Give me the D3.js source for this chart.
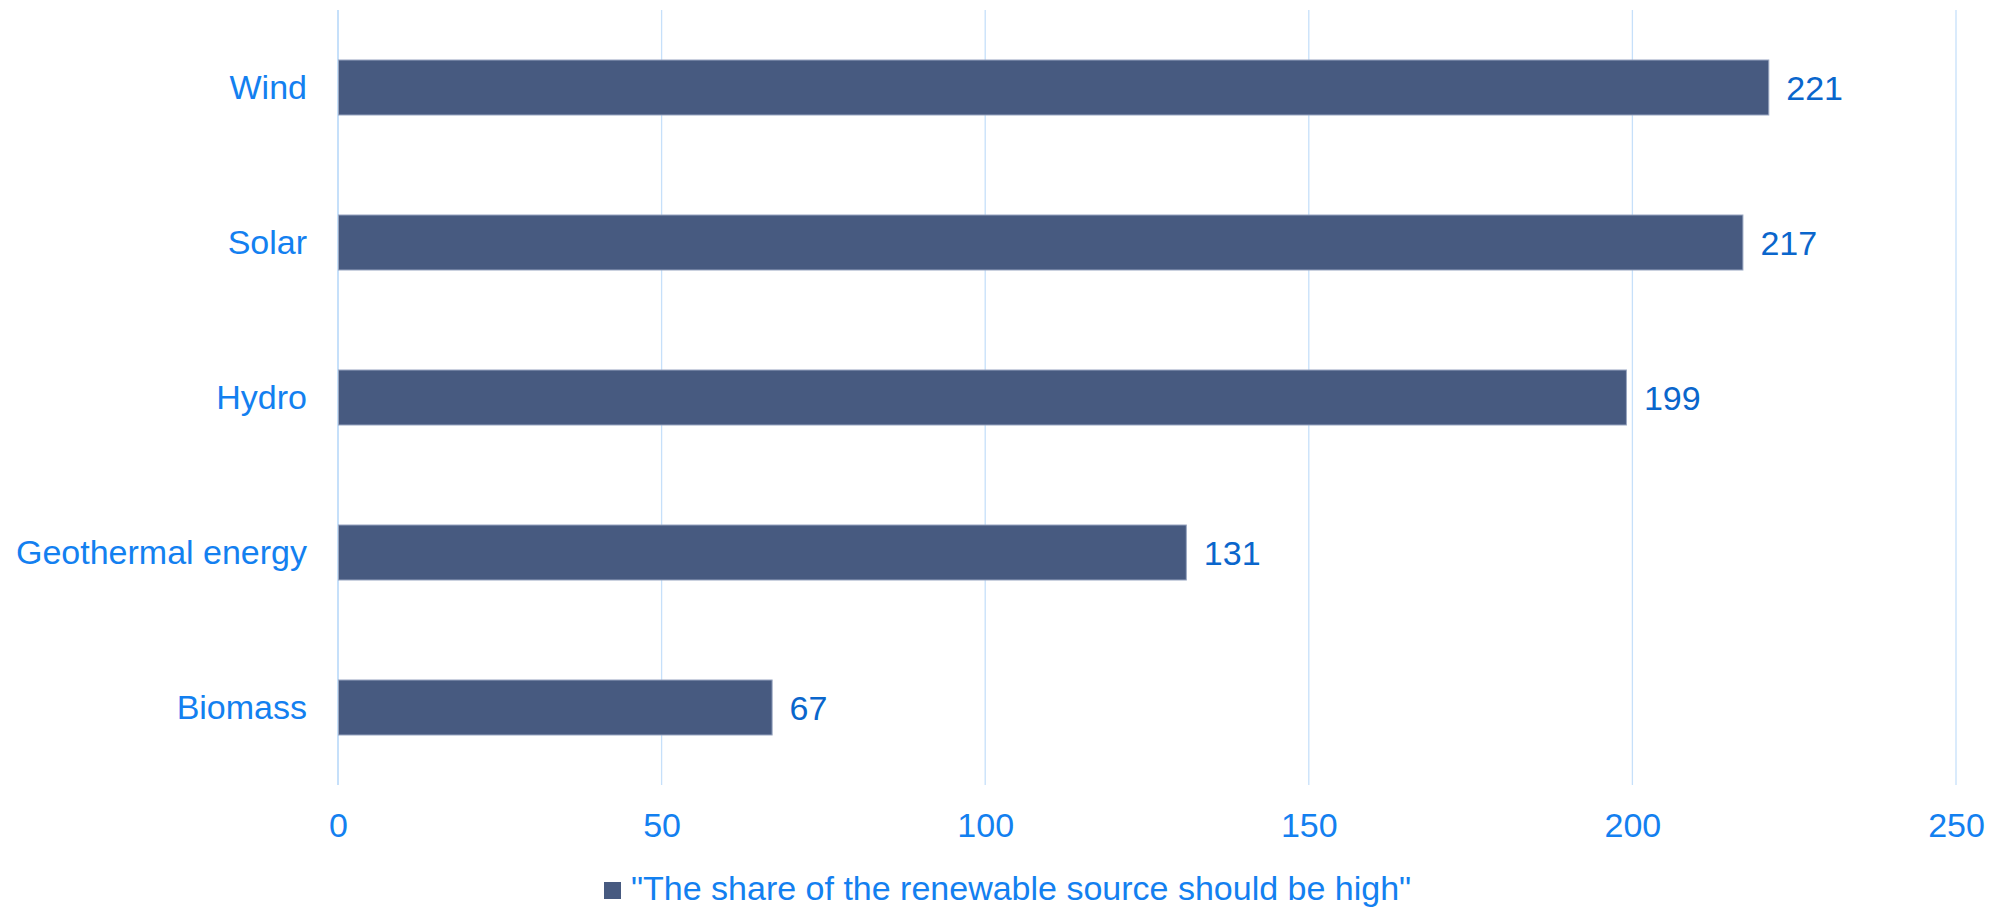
<!DOCTYPE html>
<html>
<head>
<meta charset="utf-8">
<script src="https://cdn.jsdelivr.net/npm/d3@7"></script>
<style>
	html, body { margin: 0; padding: 0; background: #ffffff; }
	svg { display: block; font-family: "Liberation Sans", Arial, sans-serif; }
</style>
</head>
<body>
<svg id="chart" width="2004" height="909"></svg>
<script>
// data
const categories = ['Wind', 'Solar', 'Hydro', 'Geothermal energy', 'Biomass'];
const values = [221, 217, 199, 131, 67];
const xTicks = [0, 50, 100, 150, 200, 250];
const seriesName = '"The share of the renewable source should be high"';

// colors
const barColor = '#475a80';
const gridColor = '#c6e0fa';
const labelColor = '#1380f0';
const valueColor = '#0a66cc';

const chart = {

	svg: d3.select('#chart'),
	x: null,
	y: null,

	// scales
	setScale: function() {
		this.x = d3.scaleLinear()
			.domain([0, 250])
			.range([338, 1956]);

		this.y = d3.scaleBand()
			.domain(categories)
			.range([10, 785])
			.paddingInner(0.645)
			.paddingOuter(0.3225);

		return this;
	},

	// vertical grid lines
	grid: function() {
		const x = this.x;

		this.svg.append('g')
			.attr('class', 'grid')
			.selectAll('line')
			.data(xTicks)
			.join('line')
			.attr('x1', d => x(d))
			.attr('x2', d => x(d))
			.attr('y1', 10)
			.attr('y2', 785)
			.style('stroke', gridColor)
			.style('stroke-width', d => d === 0 ? 2 : 1.3);

		return this;
	},

	// x axis labels (no axis line)
	xAxis: function() {
		const axis = d3.axisBottom(this.x)
			.tickValues(xTicks)
			.tickSize(0)
			.tickPadding(0);

		const g = this.svg.append('g')
			.attr('transform', 'translate(0,813)')
			.call(axis);

		g.select('.domain').remove();
		g.selectAll('text')
			.attr('dy', '0.71em')
			.style('font-size', '34px')
			.style('font-family', '"Liberation Sans", Arial, sans-serif')
			.style('fill', labelColor);

		return this;
	},

	// category labels
	yAxis: function() {
		const axis = d3.axisLeft(this.y)
			.tickSize(0)
			.tickPadding(31);

		const g = this.svg.append('g')
			.attr('transform', 'translate(338,0)')
			.call(axis);

		g.select('.domain').remove();
		g.selectAll('text')
			.attr('dy', '0.34em')
			.style('font-size', '34px')
			.style('font-family', '"Liberation Sans", Arial, sans-serif')
			.style('fill', labelColor);

		return this;
	},

	// bars + value labels
	bars: function() {
		const x = this.x, y = this.y;

		this.svg.append('g')
			.selectAll('rect')
			.data(values)
			.join('rect')
			.attr('x', x(0) + 0.5)
			.attr('y', (d, i) => y(categories[i]))
			.attr('width', d => x(d) - x(0))
			.attr('height', y.bandwidth())
			.style('fill', barColor)
			.style('stroke', '#9aa7c1')
			.style('stroke-width', 1);

		this.svg.append('g')
			.selectAll('text')
			.data(values)
			.join('text')
			.attr('x', d => x(d) + 18)
			.attr('y', (d, i) => y(categories[i]) + y.bandwidth() / 2)
			.attr('dy', '0.38em')
			.style('font-size', '34px')
			.style('fill', valueColor)
			.text(d => d);

		return this;
	},

	// legend
	legend: function() {
		const g = this.svg.append('g');

		g.append('rect')
			.attr('x', 604)
			.attr('y', 882)
			.attr('width', 17)
			.attr('height', 17)
			.style('fill', barColor);

		g.append('text')
			.attr('x', 631)
			.attr('y', 900)
			.style('font-size', '34px')
			.style('fill', labelColor)
			.text(seriesName);

		return this;
	}
};

chart.setScale().grid().bars().yAxis().xAxis().legend();
</script>
</body>
</html>
